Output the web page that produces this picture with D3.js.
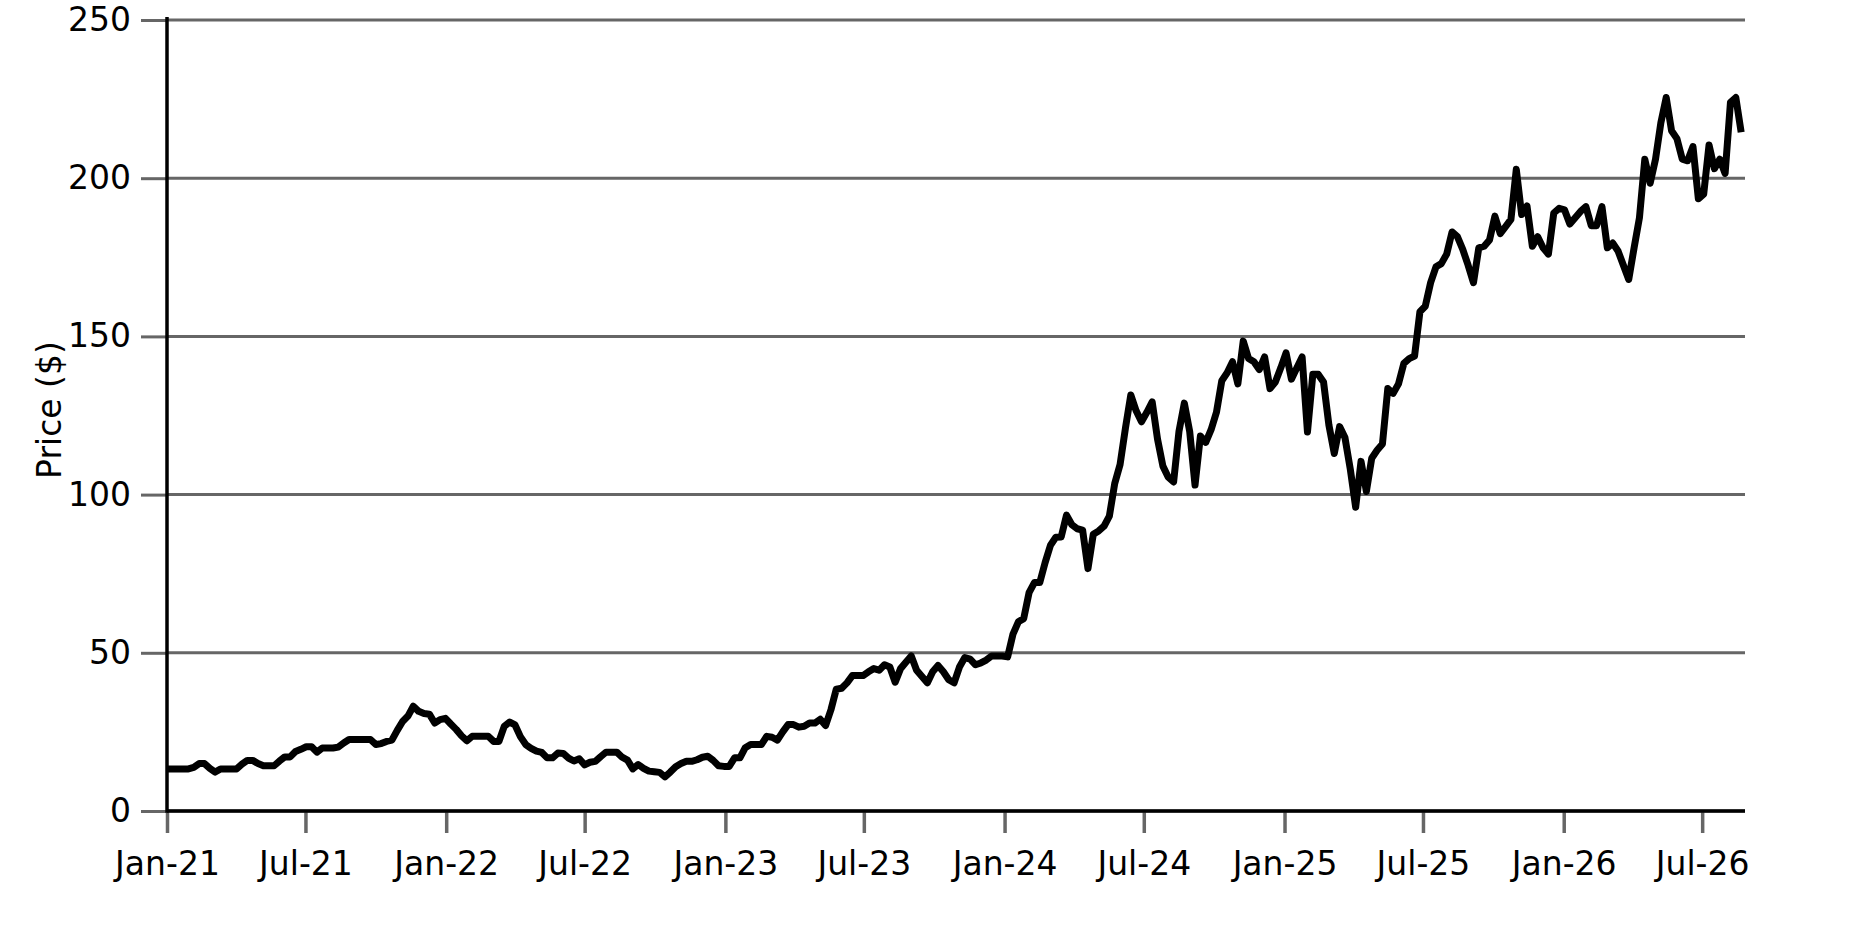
<!DOCTYPE html>
<html>
<head>
<meta charset="utf-8">
<script src="https://cdn.jsdelivr.net/npm/d3@7"></script>
<style>
  body { margin: 0; background: #fff; }
  svg { display: block; font-family: "DejaVu Sans", sans-serif; }
</style>
</head>
<body>
<div id="chart"></div>
<script>
// weekly closing price, first week of Jan 2021 onwards
var startDate = new Date(Date.UTC(2021, 0, 1));
var endDate = new Date(Date.UTC(2026, 7, 26));
var prices = [
    13.3, 13.3, 13.3, 13.3, 13.3, 13.8, 15.0, 15.0, 13.5, 12.3,
    13.3, 13.3, 13.3, 13.3, 14.8, 16.0, 16.0, 15.0, 14.3, 14.3,
    14.3, 15.8, 17.1, 17.1, 18.8, 19.5, 20.3, 20.3, 18.6, 19.9,
    19.9, 19.9, 20.2, 21.5, 22.6, 22.6, 22.6, 22.6, 22.6, 21.0,
    21.3, 22.0, 22.4, 25.5, 28.3, 30.0, 33.1, 31.5, 30.8, 30.6,
    27.8, 28.9,
    29.3, 27.5, 25.8, 23.8, 22.2, 23.6, 23.6, 23.6, 23.6, 22.0,
    22.0, 26.8, 28.1, 27.2, 23.5, 21.0, 19.8, 18.9, 18.5, 16.8,
    16.8, 18.3, 18.2, 16.7, 15.8, 16.5, 14.6, 15.4, 15.7, 17.2,
    18.6, 18.6, 18.6, 17.0, 16.1, 13.3, 14.7, 13.5, 12.6, 12.4,
    12.2, 10.8, 12.3, 14.0, 15.0, 15.7, 15.7, 16.2, 17.0, 17.3,
    16.0, 14.3,
    14.1, 14.1, 16.8, 16.8, 20.0, 21.0, 21.0, 21.0, 23.6, 23.3,
    22.4, 25.0, 27.3, 27.3, 26.5, 26.8, 27.8, 27.8, 29.0, 27.0,
    32.0, 38.5, 38.8, 40.5, 42.8, 42.8, 42.8, 44.0, 45.0, 44.5,
    46.2, 45.5, 40.7, 45.0, 47.0, 49.0, 44.5, 42.5, 40.5, 44.0,
    46.0, 44.0, 41.5, 40.5, 45.5, 48.5, 48.0, 46.2, 46.8, 47.7,
    49.0, 49.0, 49.0, 48.7,
    55.9, 59.8, 60.8, 69.0, 72.2, 72.2, 78.5, 84.0, 86.5, 86.6,
    93.5, 90.5, 89.2, 88.8, 76.6, 87.5, 88.5, 90.0, 93.2, 103.5,
    109.5, 121.0, 131.5, 126.5, 123.0, 126.0, 129.3, 117.5, 109.0, 105.5,
    104.0, 120.0, 128.9,
    120.0, 103.0, 118.5, 116.5, 120.5, 126.0, 136.0, 138.5, 142.0, 135.0,
    148.5, 143.0, 142.0, 139.5, 143.5, 133.5, 135.6, 140.0, 144.8, 136.5,
    140.0, 143.5, 119.8, 138.0, 138.0, 135.6, 122.0, 113.0, 121.5, 118.0,
    108.0, 96.0, 110.5, 101.0,
    111.5, 114.0, 116.0, 133.5, 132.0, 135.0, 141.5, 143.0, 143.8, 157.8,
    159.5, 167.0, 172.0, 173.0,
    176.0, 183.0, 181.5, 177.5, 172.5, 167.0, 178.0, 178.5, 180.5, 188.0,
    182.5, 184.7, 187.0, 202.8, 188.5, 191.2, 178.5, 181.5, 178.0, 176.0,
    189.0, 190.5, 190.0, 185.5, 187.5, 189.5, 191.0, 185.0, 185.0, 191.0,
    178.0, 179.5, 177.0,
    172.5, 168.0, 178.0, 187.5, 206.0, 198.4, 206.0, 217.5, 225.5, 215.0,
    212.5, 206.0, 205.5, 210.0, 193.5, 195.0, 210.5, 203.0, 206.0, 201.5,
    224.0, 225.5, 214.5
];
var yTicks = [0, 50, 100, 150, 200, 250];
var yLabel = "Price ($)";

function drawChart() {
    var width = 1875, height = 938;
    var margin = {left: 167, right: 1745, top: 20, bottom: 811};

    var data = prices.map((p, i) => ({date: d3.utcDay.offset(startDate, 7 * i), price: p}));

    var svg = d3.select("#chart")
                .append("svg")
                .attr("width", width)
                .attr("height", height);

    var x = d3.scaleUtc()
            .domain([startDate, endDate])
            .range([margin.left, margin.right]);

    var y = d3.scaleLinear()
            .domain([0, 250])
            .range([margin.bottom, margin.top]);

    // horizontal grid
    svg.append("g")
        .selectAll("line")
        .data(yTicks)
        .join("line")
        .attr("x1", margin.left)
        .attr("x2", margin.right)
        .attr("y1", d => y(d))
        .attr("y2", d => y(d))
        .attr("stroke", "#666")
        .attr("stroke-width", 3);

    var yAxis = svg.append("g")
        .attr("transform", "translate(" + margin.left + ",0)")
        .call(d3.axisLeft(y).tickValues(yTicks).tickSize(26).tickPadding(10));
    yAxis.select(".domain").remove();
    yAxis.selectAll(".tick line").attr("stroke", "#666").attr("stroke-width", 3);
    yAxis.selectAll("text")
        .style("font", "33px 'DejaVu Sans'")
        .attr("fill", "#000");

    var xTicks = d3.utcMonth.every(6).range(startDate, endDate);
    var xAxis = svg.append("g")
        .attr("transform", "translate(0," + margin.bottom + ")")
        .call(d3.axisBottom(x).tickValues(xTicks).tickFormat(d3.utcFormat("%b-%y")).tickSize(22).tickPadding(19));
    xAxis.select(".domain").remove();
    xAxis.selectAll(".tick line").attr("stroke", "#666").attr("stroke-width", 3.5);
    xAxis.selectAll("text")
        .style("font", "33px 'DejaVu Sans'")
        .attr("fill", "#000");

    // axis spines
    svg.append("line")
        .attr("x1", margin.left).attr("x2", margin.right)
        .attr("y1", margin.bottom).attr("y2", margin.bottom)
        .attr("stroke", "#000").attr("stroke-width", 3.5);
    svg.append("line")
        .attr("x1", margin.left).attr("x2", margin.left)
        .attr("y1", 17).attr("y2", margin.bottom + 1.75)
        .attr("stroke", "#000").attr("stroke-width", 3.5);

    svg.append("path")
        .datum(data)
        .attr("fill", "none")
        .attr("stroke", "#000")
        .attr("stroke-width", 7)
        .attr("stroke-linejoin", "round")
        .attr("d", d3.line().x(d => x(d.date)).y(d => y(d.price)));

    svg.append("text")
        .attr("transform", "translate(49,410) rotate(-90)")
        .attr("text-anchor", "middle")
        .attr("dominant-baseline", "central")
        .style("font", "33px 'DejaVu Sans'")
        .text(yLabel);
}

drawChart();
</script>
</body>
</html>
